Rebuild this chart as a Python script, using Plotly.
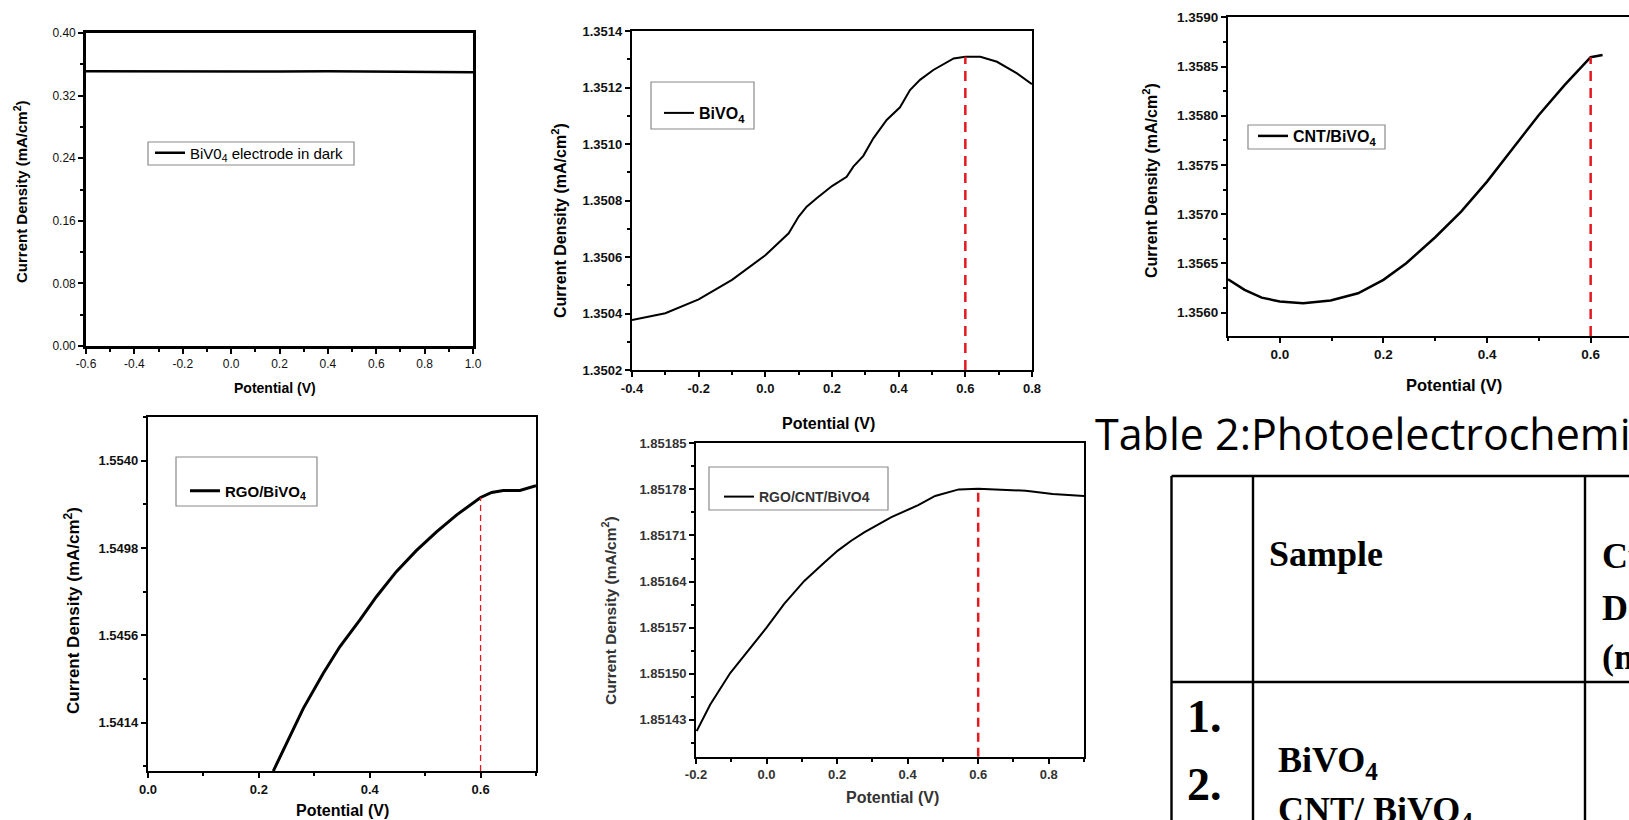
import plotly.graph_objects as go

W, H = 1629, 820
FONT = "Liberation Sans, Arial, sans-serif"
SERIF = "Liberation Serif, Times New Roman, serif"
RED = "#e3191f"

# ---------------- data ----------------
# (a) BiVO4 electrode in dark
dark_potential = [-0.6, -0.4, -0.2, 0.0, 0.2, 0.4, 0.6, 0.8, 1.0]
dark_current = [0.3512, 0.3510, 0.3506, 0.3510, 0.3507, 0.3511, 0.3509, 0.3505, 0.3500]

# (b) BiVO4
bivo4_potential = [-0.4, -0.3, -0.2, -0.1, 0.0, 0.07, 0.1, 0.124, 0.154, 0.2, 0.244, 0.264,
                   0.294, 0.324, 0.364, 0.404, 0.434, 0.464, 0.504, 0.544, 0.565, 0.6, 0.645,
                   0.695, 0.755, 0.8]
bivo4_current = [1.350377, 1.350401, 1.350450, 1.350519, 1.350606, 1.350684, 1.350743, 1.350778,
                 1.350808, 1.350851, 1.350884, 1.350920, 1.350958, 1.351020, 1.351085, 1.351130,
                 1.351191, 1.351227, 1.351262, 1.351288, 1.351303, 1.351309, 1.351309, 1.351291,
                 1.351250, 1.351212]

# (c) CNT/BiVO4
cnt_potential = [-0.1, -0.068, -0.035, 0.0, 0.045, 0.098, 0.151, 0.2, 0.244, 0.3, 0.35, 0.4,
                 0.45, 0.5, 0.55, 0.6, 0.623]
cnt_current = [1.356339, 1.356231, 1.356153, 1.356113, 1.356096, 1.356123, 1.356197, 1.356333,
               1.356502, 1.356766, 1.357027, 1.357331, 1.357670, 1.358008, 1.358313, 1.358594,
               1.358617]

# (d) RGO/BiVO4
rgo_potential = [0.226, 0.25, 0.28, 0.316, 0.346, 0.382, 0.412, 0.448, 0.484, 0.521, 0.557, 0.6,
                 0.62, 0.641, 0.671, 0.7]
rgo_current = [1.539068, 1.540386, 1.542074, 1.543762, 1.545047, 1.546333, 1.547458, 1.548664,
               1.549676, 1.550592, 1.551396, 1.552232, 1.552473, 1.552570, 1.552570, 1.552795]

# (e) RGO/CNT/BiVO4
rgocnt_potential = [-0.198, -0.16, -0.103, -0.046, 0.0, 0.05, 0.107, 0.164, 0.202, 0.24, 0.278,
                    0.354, 0.43, 0.478, 0.545, 0.6, 0.659, 0.735, 0.811, 0.9]
rgocnt_current = [1.851413, 1.851453, 1.851501, 1.851539, 1.851570, 1.851606, 1.851641, 1.851669,
                  1.851687, 1.851702, 1.851715, 1.851738, 1.851756, 1.851770, 1.851780, 1.851781,
                  1.851780, 1.851778, 1.851773, 1.851770]

peak_potential = 0.6

# tick labels of the potential axes
x1_ticks = [-0.6, -0.4, -0.2, 0.0, 0.2, 0.4, 0.6, 0.8, 1.0]
x2_ticks = [-0.4, -0.2, 0.0, 0.2, 0.4, 0.6, 0.8]
x3_ticks = [0.0, 0.2, 0.4, 0.6]
x4_ticks = [0.0, 0.2, 0.4, 0.6]
x5_ticks = [-0.2, 0.0, 0.2, 0.4, 0.6, 0.8]

# axis ranges
x1_range, y1_range = [-0.6, 1.0], [0.0, 0.40]
x2_range, y2_range = [-0.4, 0.8], [1.3502, 1.3514]
x3_range, y3_range = [-0.1, 0.674], [1.355763, 1.3590]
x4_range, y4_range = [0.0, 0.7], [1.53907, 1.556106]
x5_range, y5_range = [-0.2, 0.9], [1.851374, 1.85185]


def px(x):
    return x / W


def py(y):
    return 1 - y / H


def at_peak(xs, ys):
    return ys[xs.index(peak_potential)]


fig = go.Figure()

# curves
fig.add_trace(go.Scatter(x=dark_potential, y=dark_current, mode="lines", xaxis="x", yaxis="y",
                         name="BiV0<sub>4</sub> electrode in dark", legend="legend",
                         line=dict(color="black", width=2.5)))
fig.add_trace(go.Scatter(x=bivo4_potential, y=bivo4_current, mode="lines", xaxis="x2", yaxis="y2",
                         name="BiVO<sub>4</sub>", legend="legend2",
                         line=dict(color="black", width=2)))
fig.add_trace(go.Scatter(x=cnt_potential, y=cnt_current, mode="lines", xaxis="x3", yaxis="y3",
                         name="CNT/BiVO<sub>4</sub>", legend="legend3",
                         line=dict(color="black", width=2.5)))
fig.add_trace(go.Scatter(x=rgo_potential, y=rgo_current, mode="lines", xaxis="x4", yaxis="y4",
                         name="RGO/BiVO<sub>4</sub>", legend="legend4",
                         line=dict(color="black", width=3)))
fig.add_trace(go.Scatter(x=rgocnt_potential, y=rgocnt_current, mode="lines", xaxis="x5", yaxis="y5",
                         name="RGO/CNT/BiVO4", legend="legend5",
                         line=dict(color="black", width=2)))

# red dashed markers at the peak potential
for xa, ya, xs, ys, yr, w, dash in [
    ("x2", "y2", bivo4_potential, bivo4_current, y2_range, 2.5, "10px,7px"),
    ("x3", "y3", cnt_potential, cnt_current, y3_range, 2.5, "10px,7px"),
    ("x4", "y4", rgo_potential, rgo_current, y4_range, 1.3, "6px,4px"),
    ("x5", "y5", rgocnt_potential, rgocnt_current, y5_range, 2.5, "9px,6px"),
]:
    fig.add_trace(go.Scatter(x=[peak_potential, peak_potential], y=[yr[0], at_peak(xs, ys)],
                             mode="lines", xaxis=xa, yaxis=ya, showlegend=False,
                             line=dict(color=RED, width=w, dash=dash)))


def axis(domain, rng, dtick, minor_dtick, fmt, bold, size, anchor, mirror=True, tick0=None,
         lw=2.2, tickvals=None, color="#111"):
    d = dict(domain=domain, range=rng, anchor=anchor, showline=True, linecolor="black",
             linewidth=lw, mirror=mirror, ticks="outside", ticklen=5, tickwidth=1.5,
             tickcolor="black", showgrid=False, zeroline=False, automargin=False,
             tickfont=dict(family=FONT, size=size, color=color,
                           weight="bold" if bold else "normal"),
             minor=dict(dtick=minor_dtick, ticks="outside", ticklen=3, tickwidth=1.5,
                        tickcolor="black", showgrid=False))
    if tickvals is not None:
        d["tickmode"] = "array"
        d["tickvals"] = tickvals
        d["ticktext"] = [format(v, fmt) for v in tickvals]
        d["minor"]["tick0"] = 0
    else:
        d["dtick"] = dtick
        d["tickformat"] = fmt
    if tick0 is not None:
        d["tick0"] = tick0
        d["minor"]["tick0"] = tick0
    return d


fig.update_layout(
    xaxis=axis([px(86), px(473)], x1_range, 0.2, 0.1, ".1f", False, 12, "y", lw=2.6,
               tickvals=x1_ticks),
    yaxis=axis([py(346), py(33)], y1_range, 0.08, 0.04, ".2f", False, 12, "x", lw=2.6),
    xaxis2=axis([px(632), px(1032)], x2_range, 0.2, 0.1, ".1f", True, 13, "y2",
                tickvals=x2_ticks),
    yaxis2=axis([py(370), py(31)], y2_range, 0.0002, 0.0001, ".4f", True, 13, "x2"),
    xaxis3=axis([px(1228), 1.0], x3_range, 0.2, 0.1, ".1f", True, 13.5, "y3",
                tickvals=x3_ticks),
    yaxis3=axis([py(336), py(17.3)], y3_range, 0.0005, 0.00025, ".4f", True, 13.5, "x3",
                mirror=False),
    xaxis4=axis([px(148), px(536)], x4_range, 0.2, 0.1, ".1f", True, 13, "y4",
                tickvals=x4_ticks),
    yaxis4=axis([py(771), py(417)], y4_range, 0.0042, 0.0021, ".4f", True, 13, "x4",
                tick0=1.5414),
    xaxis5=axis([px(696), px(1084)], x5_range, 0.2, 0.1, ".1f", True, 13, "y5", lw=2,
                tickvals=x5_ticks, color="#333"),
    yaxis5=axis([py(756.7), py(443.3)], y5_range, 0.00007, 0.000035, ".5f", True, 13, "x5",
                tick0=1.85143, lw=2, color="#333"),
)


def legend(xline, yline, size, bold, color="black"):
    return dict(x=px(xline - 5), y=py(yline), xanchor="left", yanchor="middle",
                bgcolor="rgba(0,0,0,0)", borderwidth=0, itemwidth=30,
                font=dict(family=FONT, size=size, color=color,
                          weight="bold" if bold else "normal"))


fig.update_layout(
    legend=legend(155, 153, 15, False),
    legend2=legend(664, 113, 16, True),
    legend3=legend(1258, 136, 16, True),
    legend4=legend(190, 491, 15, True),
    legend5=legend(724, 497, 14, True, "#333"),
)

shapes = []
# legend frames
for x0, y0, x1, y1 in [(148, 142, 354, 165), (651, 82, 754, 129), (1248, 125, 1385, 149),
                       (176, 457, 317, 506), (709, 467, 888, 510)]:
    shapes.append(dict(type="rect", xref="paper", yref="paper", x0=px(x0), x1=px(x1),
                       y0=py(y1), y1=py(y0), line=dict(color="#8a8a8a", width=1.2)))
# table grid
TL = 2.4
for yy in [476, 682]:
    shapes.append(dict(type="line", xref="paper", yref="paper", x0=px(1171.5), x1=1.0,
                       y0=py(yy), y1=py(yy), line=dict(color="black", width=TL)))
for xx in [1171.5, 1253, 1585]:
    shapes.append(dict(type="line", xref="paper", yref="paper", x0=px(xx), x1=px(xx),
                       y0=py(476), y1=0, line=dict(color="black", width=TL)))
fig.update_layout(shapes=shapes)

ann = []


def text(x, y, s, size, family=FONT, bold=True, angle=0, xanchor="center", color="black"):
    ann.append(dict(x=px(x), y=py(y), xref="paper", yref="paper", text=s, showarrow=False,
                    textangle=angle, xanchor=xanchor, yanchor="middle",
                    font=dict(family=family, size=size, color=color,
                              weight="bold" if bold else "normal")))


YT = "Current Density (mA/cm<sup>2</sup>)"
text(20, 192, YT, 15, angle=-90)
text(275, 388, "Potential (V)", 14)
text(559, 221, YT, 16, angle=-90)
text(828, 423, "Potential (V)", 16)
text(1150, 181, YT, 16, angle=-90)
text(1454, 385, "Potential (V)", 16.5)
text(72, 611, YT, 17, angle=-90)
text(342, 810, "Potential (V)", 16)
text(609, 611, YT, 15.5, angle=-90, color="#333")
text(892, 797, "Potential (V)", 16, color="#333")

# table
text(1093, 433, "Table 2:Photoelectrochemical", 43, family="Open Sans, Noto Sans, sans-serif",
     bold=False, xanchor="left")
text(1267, 554, "Sample", 36, family=SERIF, xanchor="left")
text(1600, 556, "Current", 36, family=SERIF, xanchor="left")
text(1600, 608, "Density", 36, family=SERIF, xanchor="left")
text(1600, 654, "(mA/cm<sup>2</sup>)", 36, family=SERIF, xanchor="left")
text(1185, 716, "1.", 46, family=SERIF, xanchor="left")
text(1185, 784, "2.", 46, family=SERIF, xanchor="left")
text(1276, 762, "BiVO<sub>4</sub>", 36, family=SERIF, xanchor="left")
text(1276, 812, "CNT/ BiVO<sub>4</sub>", 36, family=SERIF, xanchor="left")
fig.update_layout(annotations=ann)

fig.update_layout(width=W, height=H, autosize=False, margin=dict(l=0, r=0, t=0, b=0),
                  paper_bgcolor="white", plot_bgcolor="white")
fig.write_html("out.html", config={"displayModeBar": False},
               post_script="document.body.style.margin='0';")
